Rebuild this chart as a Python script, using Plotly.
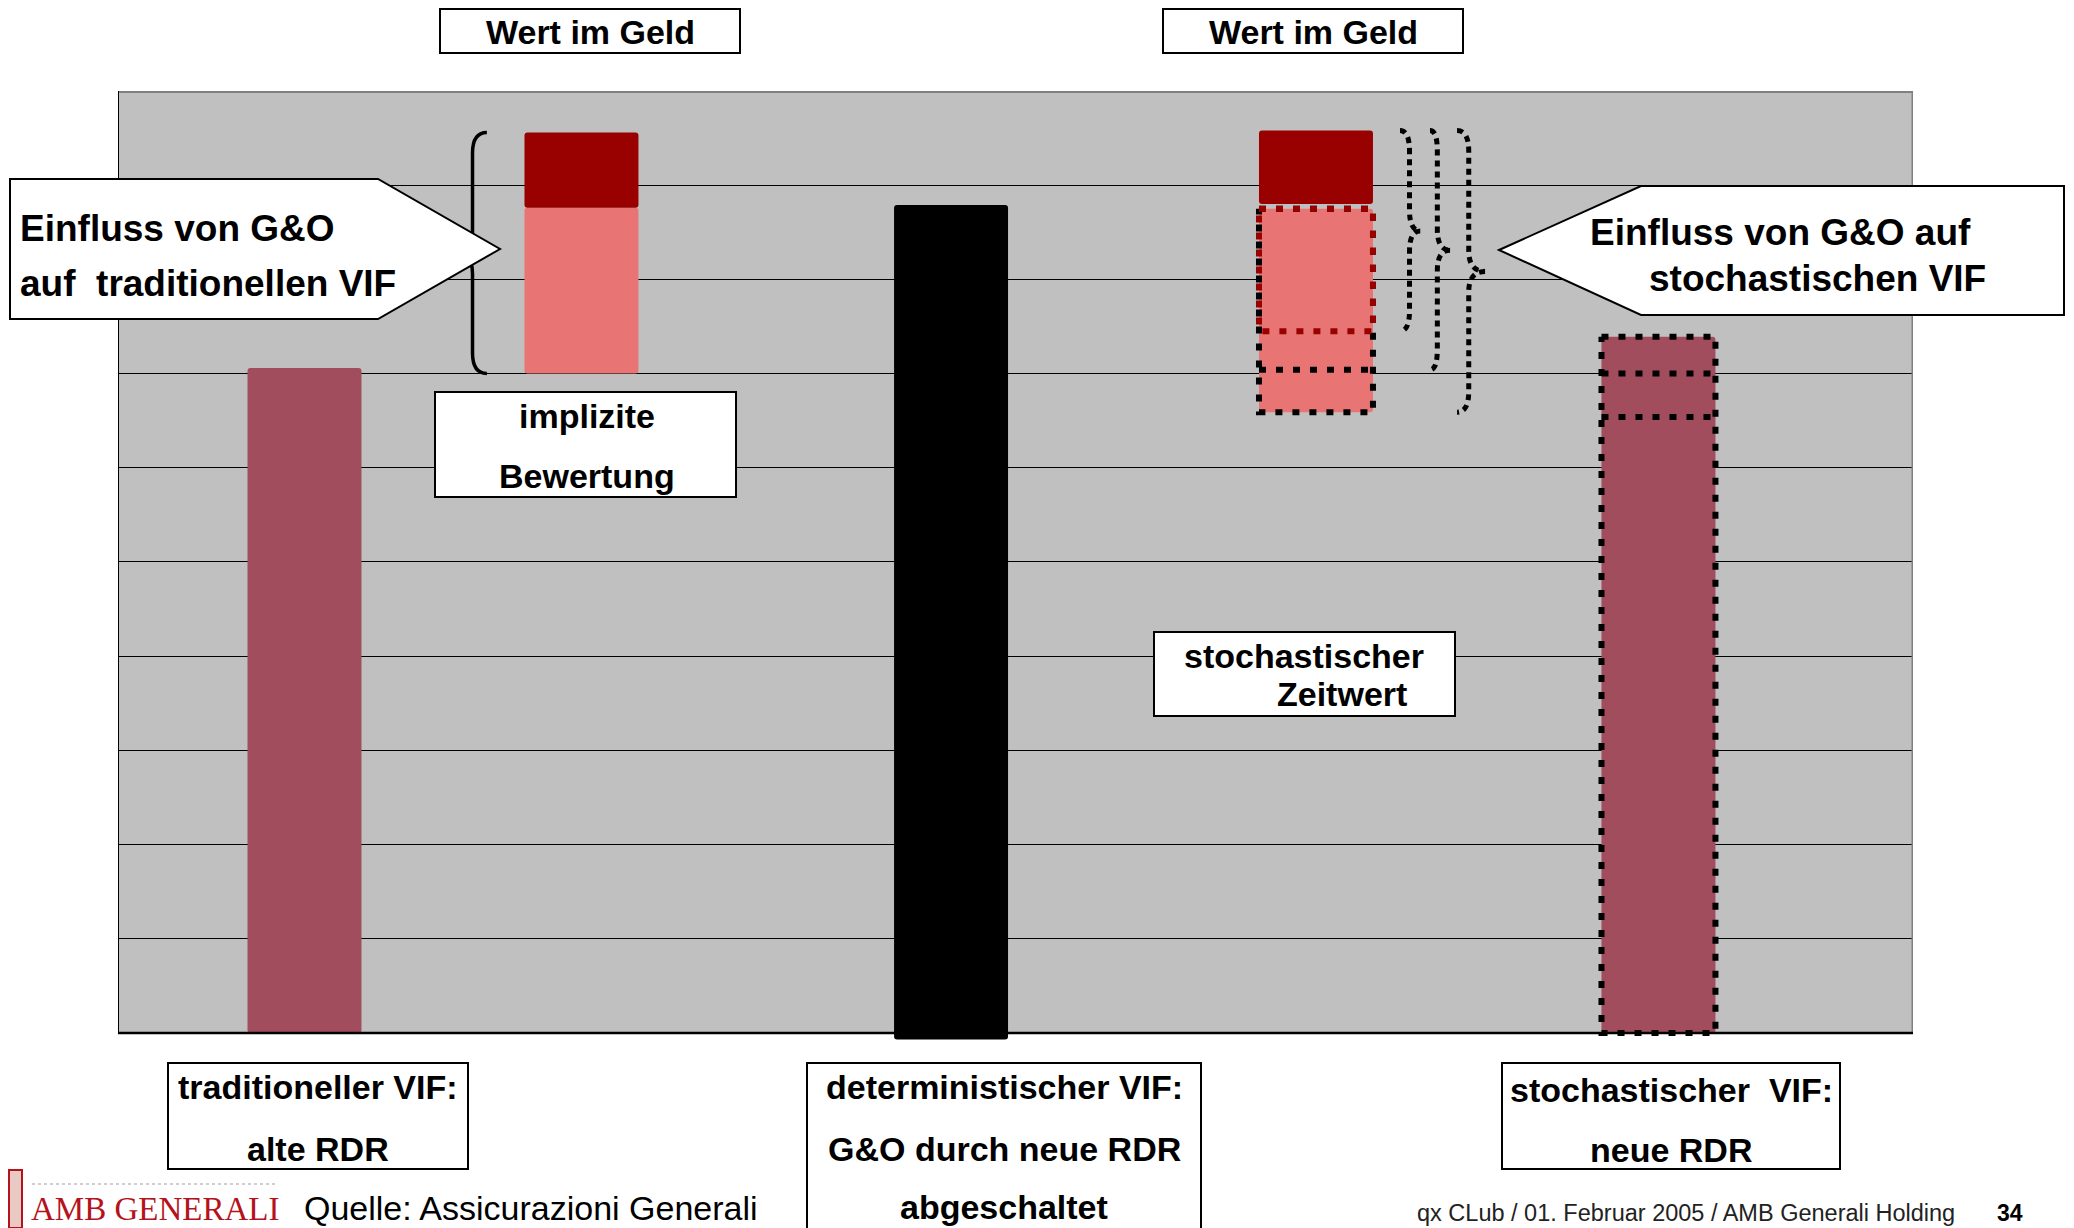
import plotly.graph_objects as go

# ---------------- data (chart units: x 0..100, y 0..10) ----------------
categories = ["traditioneller VIF", "implizite Bewertung", "deterministischer VIF",
              "stochastischer Zeitwert", "stochastischer VIF"]
x_pos = [10.39, 25.82, 46.41, 66.74, 85.82]

# VIF bars: traditional, deterministic, stochastic
vif_idx = [0, 2, 4]
vif_base = [0.0, -0.07, 0.0]
vif_top = [7.06, 8.79, 7.39]
vif_colors = ["#A24D5D", "#000000", "#A24D5D"]

# time value (pink) : implicit valuation / stochastic time value
tv_idx = [1, 3]
tv_base = [7.00, 6.59]
tv_top = [8.76, 8.75]

# intrinsic value "Wert im Geld" (dark red)
iv_base = [8.76, 8.80]
iv_top = [9.56, 9.58]

# stochastic scenario levels
stoch_tv_levels = [7.45, 7.04, 6.59]
stoch_vif_levels = [7.39, 7.00, 6.54]

# ---------------- layout constants (page pixels) ----------------
OFF = 8                      # default body margin of the html page
PAGE_W, PAGE_H = 2074, 1228
W, H = PAGE_W - OFF, PAGE_H - OFF
PL, PR, PT, PB = 118, 1913, 91, 1040   # plot area in page pixels
Y0 = -0.075
BAR_W = 6.35
FONT = "Liberation Sans"


def fx(px):
    return (px - PL) / (PR - PL)


def fy(py):
    return (PB - py) / (PB - PT)


fig = go.Figure()

# bars
fig.add_bar(x=[x_pos[i] for i in vif_idx], y=[t - b for t, b in zip(vif_top, vif_base)],
            base=vif_base, width=BAR_W,
            marker=dict(color=vif_colors, line_width=0, cornerradius=3))
fig.add_bar(x=[x_pos[i] for i in tv_idx], y=[t - b for t, b in zip(tv_top, tv_base)],
            base=tv_base, width=BAR_W,
            marker=dict(color="#E87474", line_width=0, cornerradius=3))
fig.add_bar(x=[x_pos[i] for i in tv_idx], y=[t - b for t, b in zip(iv_top, iv_base)],
            base=iv_base, width=BAR_W,
            marker=dict(color="#990000", line_width=0, cornerradius=3))


def dotted(xs, ys, color, width=6, dash="7px,10px"):
    fig.add_scatter(x=xs, y=ys, mode="lines", hoverinfo="skip", showlegend=False,
                    line=dict(color=color, width=width, dash=dash))


def rect(xc, y0, y1):
    xl, xr = xc - BAR_W / 2, xc + BAR_W / 2
    return [xl, xr, xr, xl, xl], [y1, y1, y0, y0, y1]


def hline(xc, y):
    return [xc - BAR_W / 2, xc + BAR_W / 2], [y, y]


# stochastic VIF (bar 5) outlines
xs, ys = rect(x_pos[4], 0, stoch_vif_levels[0])
dotted(xs, ys, "black")
for lv in stoch_vif_levels[1:]:
    dotted(*hline(x_pos[4], lv), "black")

# stochastic time value (bar 4) outlines
xs, ys = rect(x_pos[3], stoch_tv_levels[2], tv_top[1])
dotted(xs, ys, "black")
dotted(*hline(x_pos[3], stoch_tv_levels[1]), "black")
xs, ys = rect(x_pos[3], stoch_tv_levels[0], tv_top[1])
dotted(xs, ys, "#990000")

shapes = []
# gray plot background (only down to y=0)
shapes.append(dict(type="rect", xref="x", yref="y", x0=0, x1=100, y0=0, y1=10,
                   fillcolor="#C0C0C0", line_width=0, layer="below"))
# plot borders
shapes.append(dict(type="line", xref="x", yref="y", x0=0, x1=100, y0=10, y1=10,
                   line=dict(color="#808080", width=4)))
shapes.append(dict(type="line", xref="x", yref="y", x0=100, x1=100, y0=0, y1=10,
                   line=dict(color="#808080", width=3)))
shapes.append(dict(type="line", xref="x", yref="y", x0=0, x1=0, y0=0, y1=10,
                   line=dict(color="black", width=2)))
shapes.append(dict(type="line", xref="x", yref="y", x0=0, x1=100, y0=0, y1=0,
                   line=dict(color="black", width=2.5)))


def brace(x_end, x_mid, x_tip, y_top, y_bot, r=0.2):
    ym = (y_top + y_bot) / 2
    return (f"M{x_end},{y_top} Q{x_mid},{y_top} {x_mid},{y_top - r} "
            f"L{x_mid},{ym + r} Q{x_mid},{ym} {x_tip},{ym} "
            f"M{x_tip},{ym} Q{x_mid},{ym} {x_mid},{ym - r} "
            f"L{x_mid},{y_bot + r} Q{x_mid},{y_bot} {x_end},{y_bot}")


# left solid brace "{" around implicit valuation bar
shapes.append(dict(type="path", xref="x", yref="y",
                   path=brace(20.55, 19.75, 18.9, iv_top[0], tv_base[0], r=0.22),
                   line=dict(color="black", width=3.5)))
# right dotted braces "}" for the three stochastic levels
br_x = [(71.42, 71.95, 72.55), (73.09, 73.5, 74.21), (74.6, 75.25, 76.16)]
for (xe, xm, xt), lv in zip(br_x, stoch_tv_levels):
    shapes.append(dict(type="path", xref="x", yref="y",
                       path=brace(xe, xm, xt, iv_top[1], lv, r=0.22),
                       line=dict(color="black", width=5, dash="6px,5px")))


def poly(points):
    p = "M" + " L".join(f"{fx(a)},{fy(b)}" for a, b in points) + " Z"
    return dict(type="path", xref="paper", yref="paper", path=p,
                fillcolor="white", line=dict(color="black", width=2))


# callouts
shapes.append(poly([(10, 179), (378, 179), (500, 249), (378, 319), (10, 319)]))
shapes.append(poly([(1499, 250), (1641, 186), (2064, 186), (2064, 315), (1641, 315)]))

# text boxes
boxes = [(440, 9, 740, 53), (1163, 9, 1463, 53), (435, 392, 736, 497),
         (1154, 632, 1455, 716), (168, 1063, 468, 1169), (807, 1063, 1201, 1260),
         (1502, 1063, 1840, 1169)]
for x0, y0, x1, y1 in boxes:
    shapes.append(dict(type="rect", xref="paper", yref="paper",
                       x0=fx(x0), x1=fx(x1), y0=fy(y1), y1=fy(y0),
                       fillcolor="white", line=dict(color="black", width=2)))

# logo emblem and fine line
shapes.append(dict(type="rect", xref="paper", yref="paper", x0=fx(9), x1=fx(22),
                   y0=fy(1228), y1=fy(1170), fillcolor="#E9C9C4",
                   line=dict(color="#B5121B", width=2)))
shapes.append(dict(type="line", xref="paper", yref="paper", x0=fx(32), x1=fx(275),
                   y0=fy(1184), y1=fy(1184), line=dict(color="#CFCFCF", width=2, dash="dot")))

annotations = []


def txt(s, x, y, size=34, anchor="center", weight=700, color="black", family=FONT):
    annotations.append(dict(text=s, x=fx(x), y=fy(y), xref="paper", yref="paper",
                            xanchor=anchor, yanchor="middle", showarrow=False,
                            font=dict(family=family, size=size, color=color, weight=weight)))


NB = "\u00a0"
txt("Wert im Geld", 590, 32)
txt("Wert im Geld", 1313, 32)
txt("implizite", 587, 416)
txt("Bewertung", 587, 476)
txt("stochastischer", 1182, 656, anchor="left")
txt("Zeitwert", 1409, 694, anchor="right")
txt("traditioneller VIF:", 318, 1087)
txt("alte RDR", 318, 1149)
txt("deterministischer VIF:", 1004, 1087)
txt("G&amp;O durch neue RDR", 1004, 1149)
txt("abgeschaltet", 1004, 1207)
txt("stochastischer" + NB + " VIF:", 1671, 1090)
txt("neue RDR", 1671, 1150)
txt("Einfluss von G&amp;O", 18, 228, size=37, anchor="left")
txt("auf" + NB + " traditionellen VIF", 18, 283, size=37, anchor="left")
txt("Einfluss von G&amp;O auf", 1588, 233, size=37, anchor="left")
txt("stochastischen VIF", 1647, 278, size=37, anchor="left")
txt("Quelle: Assicurazioni Generali", 302, 1208, size=34, anchor="left", weight=400)
txt("AMB GENERALI", 29, 1209, size=33, anchor="left", weight=400, color="#B5121B",
    family="Liberation Serif")
txt("qx CLub / 01. Februar 2005 / AMB Generali Holding", 1415, 1213, size=23.5,
    anchor="left", weight=400, color="#222222")
txt("34", 2010, 1213, size=23)

fig.update_layout(
    width=W, height=H, barmode="overlay", showlegend=False,
    margin=dict(l=PL - OFF, r=PAGE_W - PR, t=PT - OFF, b=PAGE_H - PB, pad=0),
    paper_bgcolor="white", plot_bgcolor="white",
    xaxis=dict(range=[0, 100], showgrid=False, zeroline=False, showline=False,
               showticklabels=False, ticks="", fixedrange=True),
    yaxis=dict(range=[Y0, 10], tick0=0, dtick=1, showgrid=True, gridcolor="black",
               gridwidth=1.3, zeroline=False, showline=False, showticklabels=False,
               ticks="", fixedrange=True),
    shapes=shapes, annotations=annotations, hovermode=False,
)

fig.write_html("out.html", config={"displayModeBar": False})
